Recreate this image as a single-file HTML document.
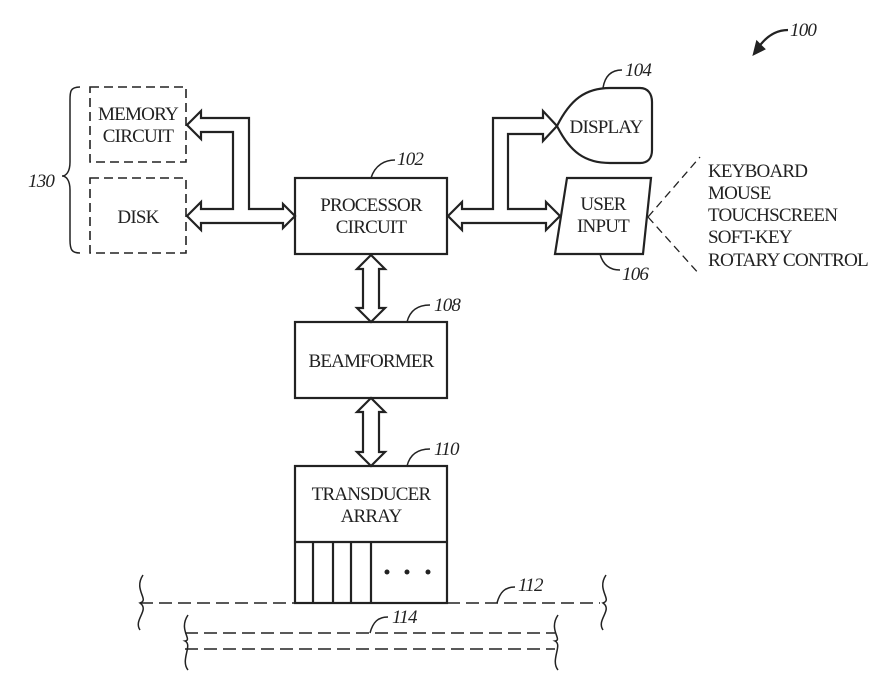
<!DOCTYPE html>
<html><head><meta charset="utf-8"><style>
html,body{margin:0;padding:0;background:#fff;}
svg{display:block;}
text{font-family:"Liberation Serif",serif;fill:#222;letter-spacing:-0.8px;}
.l{font-style:italic;font-size:19px;}
</style></head><body>
<svg width="878" height="692" viewBox="0 0 878 692" xmlns="http://www.w3.org/2000/svg" fill="none" stroke="#222" stroke-width="2.2">
<text class="l" x="790" y="36" stroke="none">100</text>
<path d="M788 30 C775 30 765 38 758 48"/>
<path d="M754 54 L757 42 L764 49 Z" fill="#222"/>
<path d="M80 87 C70 87 70 92 70 100 L70 162 C70 172 66 176 62 176 C66 176 70 180 70 190 L70 240 C70 250 72 253 80 253" stroke-width="1.5"/>
<text class="l" x="28" y="187" stroke="none">130</text>
<rect x="90" y="87" width="96" height="75" stroke-dasharray="9,5" stroke-width="1.6"/>
<rect x="90" y="178" width="96" height="75" stroke-dasharray="9,5" stroke-width="1.6"/>
<text x="138" y="120" font-size="19" text-anchor="middle" stroke="none" textLength="80" lengthAdjust="spacingAndGlyphs">MEMORY</text>
<text x="138" y="142" font-size="19" text-anchor="middle" stroke="none">CIRCUIT</text>
<text x="138" y="223" font-size="19" text-anchor="middle" stroke="none">DISK</text>
<path d="M295 216 L283 204 L283 209 L249 209 L249 118 L201 118 L201 111 L187 125 L201 139 L201 132 L233 132 L233 209 L201 209 L201 202 L187 216 L201 230 L201 223 L283 223 L283 228 Z" fill="#fff"/>
<rect x="295" y="178" width="152" height="76"/>
<text x="371" y="211" font-size="19" text-anchor="middle" stroke="none">PROCESSOR</text>
<text x="371" y="233" font-size="19" text-anchor="middle" stroke="none">CIRCUIT</text>
<path d="M371 178 C375 165 385 160 395 160" stroke-width="1.5"/>
<text class="l" x="397" y="165" stroke="none">102</text>
<path d="M448 216 L462 202 L462 209 L493 209 L493 118 L543 118 L543 111 L557 126 L543 141 L543 134 L508 134 L508 209 L546 209 L546 202 L560 216 L546 230 L546 223 L462 223 L462 230 Z" fill="#fff"/>
<path d="M557 126 C570 100 585 88 610 88 L640 88 C648 88 652 94 652 102 L652 150 C652 158 648 163 640 163 L610 163 C585 163 570 152 557 126 Z" fill="#fff"/>
<text x="606" y="133" font-size="19" text-anchor="middle" stroke="none">DISPLAY</text>
<path d="M603 88 C605 75 612 70 622 70" stroke-width="1.5"/>
<text class="l" x="625" y="76" stroke="none">104</text>
<path d="M567 178 L651 178 L643 254 L555 254 Z" fill="#fff"/>
<text x="603" y="210" font-size="19" text-anchor="middle" stroke="none">USER</text>
<text x="603" y="232" font-size="19" text-anchor="middle" stroke="none">INPUT</text>
<path d="M600 254 C603 265 610 270 620 270" stroke-width="1.5"/>
<text class="l" x="622" y="280" stroke="none">106</text>
<path d="M648 217 L700 157 M648 217 L700 275" stroke-dasharray="8,5" stroke-width="1.3"/>
<g font-size="19" stroke="none">
<text x="708" y="177">KEYBOARD</text>
<text x="708" y="199">MOUSE</text>
<text x="708" y="221">TOUCHSCREEN</text>
<text x="708" y="243">SOFT-KEY</text>
<text x="708" y="266" textLength="160" lengthAdjust="spacingAndGlyphs">ROTARY CONTROL</text>
</g>
<path d="M371 255 L385 269 L379 269 L379 308 L385 308 L371 322 L357 308 L363 308 L363 269 L357 269 Z" fill="#fff"/>
<path d="M371 398 L385 412 L379 412 L379 452 L385 452 L371 466 L357 452 L363 452 L363 412 L357 412 Z" fill="#fff"/>
<rect x="295" y="322" width="152" height="76"/>
<text x="371" y="367" font-size="19" text-anchor="middle" stroke="none">BEAMFORMER</text>
<path d="M407 322 C410 310 418 305 430 305" stroke-width="1.5"/>
<text class="l" x="434" y="311" stroke="none">108</text>
<rect x="295" y="466" width="152" height="137"/>
<line x1="295" y1="542" x2="447" y2="542"/>
<line x1="313" y1="542" x2="313" y2="603"/>
<line x1="333" y1="542" x2="333" y2="603"/>
<line x1="351" y1="542" x2="351" y2="603"/>
<line x1="371" y1="542" x2="371" y2="603"/>
<circle cx="387" cy="572" r="2.5" fill="#222" stroke="none"/>
<circle cx="407" cy="572" r="2.5" fill="#222" stroke="none"/>
<circle cx="428" cy="572" r="2.5" fill="#222" stroke="none"/>
<text x="371" y="500" font-size="19" text-anchor="middle" stroke="none">TRANSDUCER</text>
<text x="371" y="522" font-size="19" text-anchor="middle" stroke="none">ARRAY</text>
<path d="M407 466 C410 454 418 449 430 449" stroke-width="1.5"/>
<text class="l" x="434" y="455" stroke="none">110</text>
<path d="M140 603 L295 603 M447 603 L600 603" stroke-dasharray="13,6" stroke-width="1.6"/>
<path d="M143 575 C133 590 150 600 140 603 C150 610 133 620 140 630" stroke-width="1.5"/>
<path d="M606 575 C596 590 613 600 603 603 C613 610 596 620 603 630" stroke-width="1.5"/>
<path d="M497 603 C500 592 505 587 515 587" stroke-width="1.5"/>
<text class="l" x="518" y="591" stroke="none">112</text>
<path d="M185 633 L555 633 M185 649 L555 649" stroke-dasharray="13,6" stroke-width="1.6"/>
<path d="M188 615 C178 630 193 640 185 641 C193 645 180 660 188 670" stroke-width="1.5"/>
<path d="M558 615 C548 630 563 640 555 641 C563 645 550 660 558 670" stroke-width="1.5"/>
<path d="M370 633 C373 622 378 617 388 617" stroke-width="1.5"/>
<text class="l" x="392" y="623" stroke="none">114</text>
</svg>
</body></html>
